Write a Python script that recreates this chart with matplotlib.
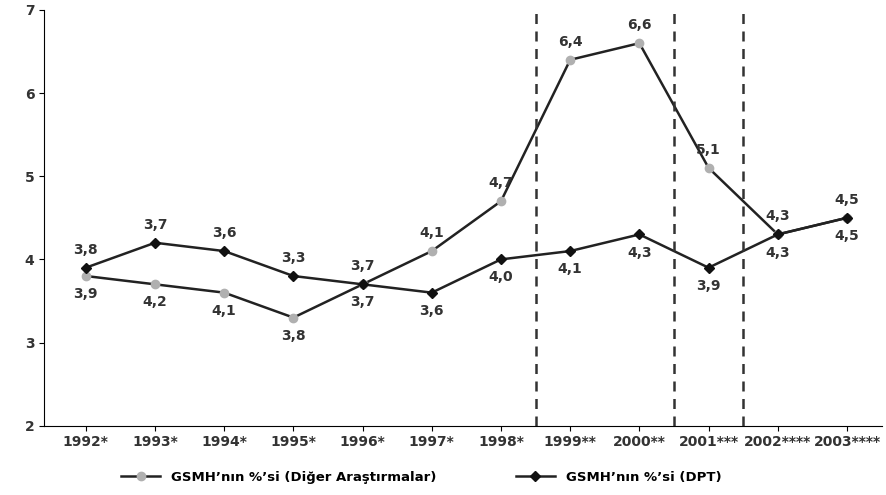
import matplotlib
matplotlib.use('Agg')
import matplotlib.pyplot as plt
import numpy as np

years = ["1992*", "1993*", "1994*", "1995*", "1996*", "1997*", "1998*",
         "1999**", "2000**", "2001***", "2002****", "2003****"]
diger = [3.8, 3.7, 3.6, 3.3, 3.7, 4.1, 4.7, 6.4, 6.6, 5.1, 4.3, 4.5]
dpt = [3.9, 4.2, 4.1, 3.8, 3.7, 3.6, 4.0, 4.1, 4.3, 3.9, 4.3, 4.5]
top_labels = ["3,8", "3,7", "3,6", "3,3", "3,7", "4,1", "4,7", "6,4", "6,6", "5,1", "4,3", "4,5"]
bottom_labels = ["3,9", "4,2", "4,1", "3,8", "3,7", "3,6", "4,0", "4,1", "4,3", "3,9", "4,3", "4,5"]

x = np.arange(len(years))

fig, ax = plt.subplots(figsize=(8.86, 4.95), dpi=100)
ax.plot(x, diger, color='#222222', lw=1.8, marker='o', ms=6,
        mfc='#b0b0b0', mec='#b0b0b0', label="GSMH’nın %’si (Diğer Araştırmalar)")
ax.plot(x, dpt, color='#222222', lw=1.8, marker='D', ms=5,
        mfc='#111111', mec='#111111', label="GSMH’nın %’si (DPT)")

for i in range(len(x)):
    hi = max(diger[i], dpt[i])
    lo = min(diger[i], dpt[i])
    ax.annotate(top_labels[i], (x[i], hi), xytext=(0, 8), textcoords='offset points',
                ha='center', va='bottom', fontsize=10, fontweight='bold', color='#333333')
    ax.annotate(bottom_labels[i], (x[i], lo), xytext=(0, -8), textcoords='offset points',
                ha='center', va='top', fontsize=10, fontweight='bold', color='#333333')

for xv in [6.5, 8.5, 9.5]:
    ax.axvline(xv, color='#333333', ls='--', lw=1.8, dashes=(4, 3))

ax.set_ylim(2, 7)
ax.set_xlim(-0.6, 11.5)
ax.set_xticks(x)
ax.set_xticklabels(years, fontsize=10, fontweight='bold', color='#333333')
ax.set_yticks([2, 3, 4, 5, 6, 7])
ax.tick_params(axis='y', labelsize=10, labelcolor='#333333')
for lbl in ax.get_yticklabels():
    lbl.set_fontweight('bold')
ax.spines['top'].set_visible(False)
ax.spines['right'].set_visible(False)
ax.legend(loc='upper center', bbox_to_anchor=(0.45, -0.08), ncol=2, frameon=False,
          prop={'size': 9.5, 'weight': 'bold'}, columnspacing=6, handlelength=3)

plt.subplots_adjust(left=0.05, right=0.995, top=0.98, bottom=0.14)
plt.savefig("out.png")
